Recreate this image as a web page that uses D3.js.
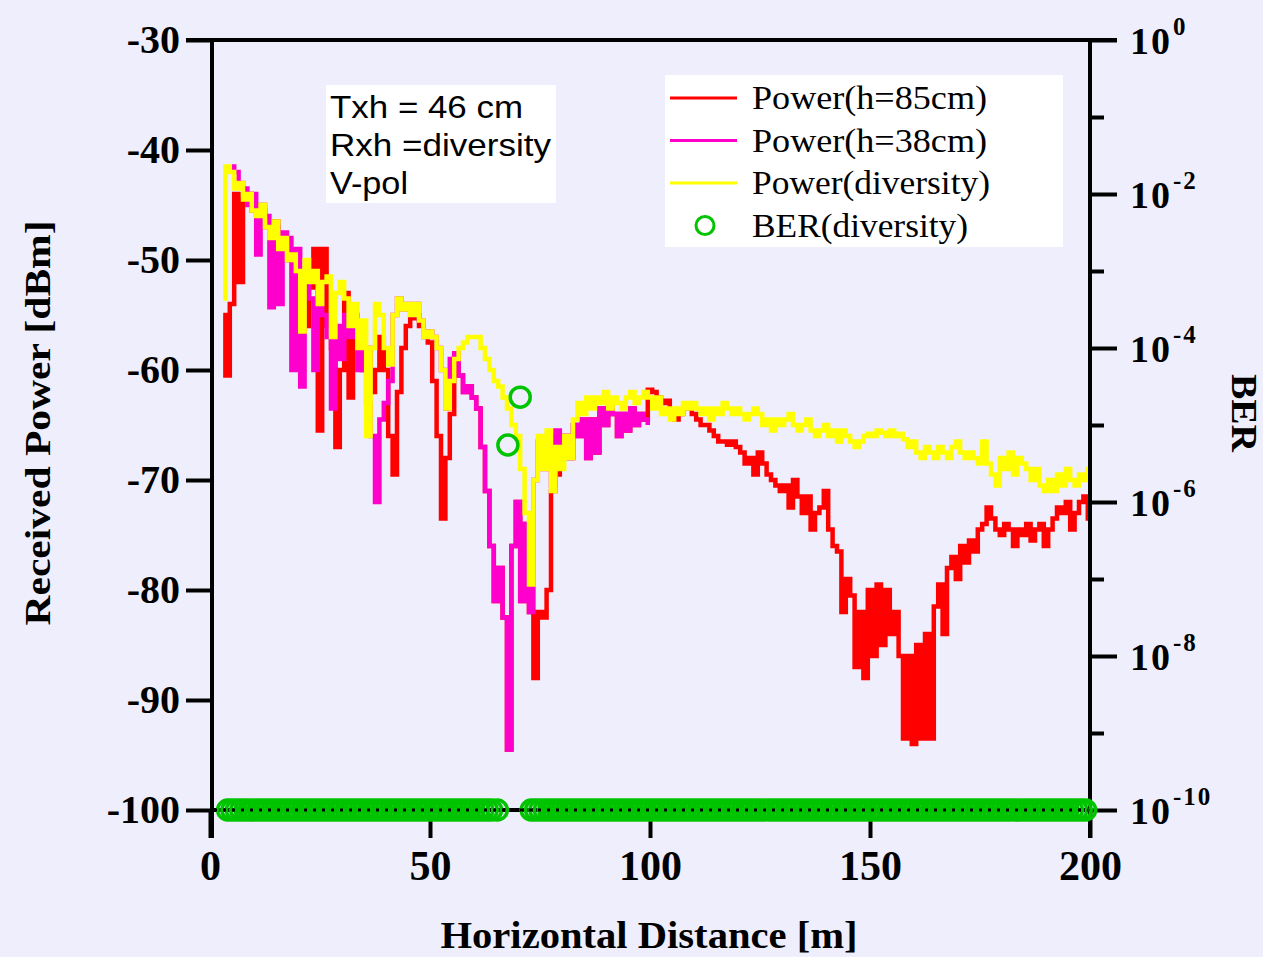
<!DOCTYPE html>
<html>
<head>
<meta charset="utf-8">
<script src="https://cdn.jsdelivr.net/npm/d3@7"></script>
<style>
  body { margin: 0; background: #eeeefc; }
  svg { display: block; }
</style>
</head>
<body>
<div id="chart-area"></div>
<script>
// received power, 1 m grid
var redStart = 3;    // Power(h=85cm), 3..200 m
var redPower = [
  -55, -60.5, -54, -44, -52, -44.5, -44, -45.5, -46, -45,
  -47, -48, -46.5, -49, -48, -50, -49.5, -55, -52, -56,
  -52.5, -49, -65.5, -49, -56, -58, -67, -60, -53, -62.5,
  -55, -57, -60, -58, -62, -60, -57, -60, -66, -69.5,
  -62, -58, -56, -55.3, -55, -56, -56.5, -57.5, -61, -66,
  -73.5, -68, -64, -58.5, -60.5, -62, -61.5, -62.5, -63.5, -67,
  -71, -76, -81, -78, -82.5, -94.5, -76, -72, -81, -74,
  -82, -88, -82, -82.5, -80, -71, -69.5, -67, -66, -68,
  -65, -66, -64.5, -68, -64.5, -67.5, -63.5, -65, -63.5, -64,
  -66, -64, -65.5, -63.5, -65, -64, -64.5, -61.8, -62, -62.5,
  -63, -62.8, -63.8, -64.5, -64, -63.5, -63.3, -64, -64.5, -65,
  -65, -65.5, -66, -66.5, -66.5, -66.8, -66.5, -67, -67.5, -68.5,
  -68, -69.5, -67.5, -68.5, -69.5, -70, -70.5, -71, -70.5, -72.5,
  -70, -71.5, -73, -71.5, -74.5, -73, -72.5, -71, -74.5, -76,
  -76.5, -82, -79, -80.5, -87, -82, -88, -80, -86, -79.5,
  -85, -80, -84, -82, -86, -93.5, -86, -94, -85, -93.5,
  -84, -93.5, -81.5, -79.5, -84, -78, -77, -79, -76, -77.5,
  -75.5, -76.5, -74.5, -74, -72.5, -73.5, -74.5, -75, -74, -74.5,
  -76, -74.5, -75, -74, -75.5, -74.5, -74, -76, -74.5, -73.5,
  -72.5, -73, -72, -74.5, -73, -72, -71.5, -73.5
];

var pinkStart = 5;   // Power(h=38cm), 5..100 m
var pinkPower = [
  -41.5, -42, -43, -43.5, -45, -44, -49.5, -45.5, -46, -54.3,
  -47, -54, -47.5, -48, -60, -49, -61.5, -51, -53.5, -60,
  -52, -55, -57, -63.5, -56, -59, -55, -57, -55, -60,
  -58, -63, -66, -72, -64.5, -63, -61, -55, -53.5, -54.5,
  -54, -55, -54, -55.5, -57, -56.5, -57, -58, -60, -63.5,
  -59, -58.5, -60.5, -62, -61.5, -62.5, -63.5, -67, -71, -76,
  -81, -78, -82.5, -94.5, -76, -72, -81, -74, -82, -70,
  -66.5, -69, -66, -70.5, -65.5, -67.5, -66, -68, -65, -66,
  -64.5, -68, -64.5, -67.5, -63.5, -65, -63.5, -64, -66, -64,
  -65.5, -63.5, -65, -64, -64.5, -64.8
];

var yellowStart = 3; // Power(diversity), 3..200 m
var yellowPower = [
  -53.5, -41.5, -42, -43.5, -43, -44.5, -44, -45.5, -46, -45,
  -47, -48, -46.5, -49, -48, -50, -49.5, -51, -56.5, -50,
  -52, -51, -54, -52, -51.5, -57, -53, -52, -53.5, -56,
  -54, -58, -55.5, -66, -58, -54, -55, -58, -59.5, -55,
  -53.5, -54.5, -54, -55, -54, -55.5, -57, -56.5, -57, -58,
  -60, -63.5, -61, -59, -58, -57.5, -57, -57, -57, -58,
  -59, -60, -61, -61.5, -62.5, -63.5, -65, -66, -69, -73,
  -79.5, -70, -66, -69, -65.5, -71, -67, -69, -66, -68,
  -64.5, -63, -64, -62.5, -63.5, -62.5, -63, -62, -63.5, -62.5,
  -63, -63.5, -62.5, -62, -63, -62.5, -62, -62.5, -63.5, -62.5,
  -64, -63.5, -64.5, -63.5, -64, -63, -63.5, -63, -63.5, -64,
  -63.5, -64.5, -63.5, -64, -63, -63.5, -64, -63.5, -64, -64.5,
  -64, -63.5, -64, -65, -64.5, -65.5, -64.5, -65, -64.5, -64,
  -65, -65.5, -65, -64.5, -65.5, -66, -65.5, -65, -66, -65.5,
  -66.5, -65.5, -66, -66.5, -67, -66.5, -66, -65.8, -66, -65.5,
  -65.7, -66, -65.5, -66, -65.8, -66.3, -67, -66.5, -67.5, -68,
  -67, -67.5, -68, -67, -67.5, -68, -67, -66.5, -67.5, -68,
  -67.5, -68, -68.5, -66.5, -68.5, -69.5, -70.5, -68, -69, -67.5,
  -69.5, -68, -68.5, -69, -70, -69, -70.5, -71, -70, -71,
  -69.5, -70.5, -69, -70, -70.5, -69.5, -70, -69
];

// BER(diversity): two measured points above the floor
var berDist = [67.7, 70.5];
var berValue = [5.5e-6, 2.3e-5];
// points sitting on the 1e-10 floor
var berFloor = 1e-10;
var berFloorDist = [
  4, 5, 6, 7, 8, 9, 10, 11, 12, 13, 14, 15, 16, 17, 18, 19, 20, 21, 22, 23,
  24, 25, 26, 27, 28, 29, 30, 31, 32, 33, 34, 35, 36, 37, 38, 39, 40, 41, 42, 43,
  44, 45, 46, 47, 48, 49, 50, 51, 52, 53, 54, 55, 56, 57, 58, 59, 60, 61, 62, 63,
  64, 65.3,
  73, 74, 75, 76, 77, 78, 79, 80, 81, 82, 83, 84, 85, 86, 87, 88, 89, 90, 91, 92,
  93, 94, 95, 96, 97, 98, 99, 100, 101, 102, 103, 104, 105, 106, 107, 108, 109, 110, 111, 112,
  113, 114, 115, 116, 117, 118, 119, 120, 121, 122, 123, 124, 125, 126, 127, 128, 129, 130, 131, 132,
  133, 134, 135, 136, 137, 138, 139, 140, 141, 142, 143, 144, 145, 146, 147, 148, 149, 150, 151, 152,
  153, 154, 155, 156, 157, 158, 159, 160, 161, 162, 163, 164, 165, 166, 167, 168, 169, 170, 171, 172,
  173, 174, 175, 176, 177, 178, 179, 180, 181, 182, 183, 184, 185, 186, 187, 188, 189, 190, 191, 192,
  193, 194, 195, 196, 197, 198, 199
];

var distTicks = [0, 50, 100, 150, 200];
var powerTicks = [-30, -40, -50, -60, -70, -80, -90, -100];
var berMajorExp = [0, -2, -4, -6, -8, -10];
var berMinorExp = [-1, -3, -5, -7, -9];

var legendNames = ["Power(h=85cm)", "Power(h=38cm)", "Power(diversity)", "BER(diversity)"];
var noteLines = ["Txh = 46 cm", "Rxh =diversity", "V-pol"];

var colRed = "#ff0000", colPink = "#ff00cc", colYellow = "#ffff00", colGreen = "#00c400";
var serif = "'Liberation Serif', 'Times New Roman', serif";
var sans = "'Liberation Sans', Arial, sans-serif";

var svg = d3.select("#chart-area").append("svg")
    .attr("width", 1263)
    .attr("height", 957);

svg.append("rect").attr("width", 1263).attr("height", 957).attr("fill", "#eeeefc");

var x = d3.scaleLinear().domain([0, 200]).range([210, 1090]);
var y = d3.scaleLinear().domain([-30, -100]).range([40, 810]);
var yBer = d3.scaleLog().domain([1e-10, 1]).range([810, 40]);

function toPoints(start, vals) {
  return vals.map((v, i) => [start + i, v]);
}

var line = d3.line()
    .curve(d3.curveStep)
    .x((d) => x(d[0]))
    .y((d) => y(d[1]));

// traces
[[redStart, redPower, colRed], [pinkStart, pinkPower, colPink], [yellowStart, yellowPower, colYellow]]
  .forEach((s) => {
    svg.append("path")
      .datum(toPoints(s[0], s[1]))
      .attr("d", line)
      .attr("fill", "none")
      .attr("stroke", s[2])
      .attr("stroke-width", 4.5)
      .attr("stroke-linejoin", "miter");
  });

// frame lines
var frame = svg.append("g").attr("stroke", "#000").attr("stroke-width", 4);
frame.append("line").attr("x1", 186).attr("x2", 1117).attr("y1", 40).attr("y2", 40);
frame.append("line").attr("x1", 212).attr("x2", 212).attr("y1", 38).attr("y2", 838);
frame.append("line").attr("x1", 1090).attr("x2", 1090).attr("y1", 38).attr("y2", 838);
frame.append("line").attr("x1", 212).attr("x2", 1090).attr("y1", 810).attr("y2", 810);

// left axis
var yAxis = svg.append("g")
    .attr("transform", "translate(212,0)")
    .call(d3.axisLeft(y).tickValues(powerTicks).tickSize(26).tickPadding(6).tickFormat((d) => String(d)));
yAxis.select(".domain").remove();
yAxis.selectAll(".tick line").attr("stroke", "#000").attr("stroke-width", 4);
yAxis.selectAll(".tick text")
    .attr("font-family", serif).attr("font-weight", "bold").attr("font-size", 40)
    .attr("fill", "#000");

// bottom axis
var xAxis = svg.append("g")
    .attr("transform", "translate(0,810)")
    .call(d3.axisBottom(x).tickValues(distTicks).tickSize(28).tickPadding(12));
xAxis.select(".domain").remove();
xAxis.selectAll(".tick line").attr("stroke", "#000").attr("stroke-width", 4);
xAxis.selectAll(".tick text")
    .attr("font-family", serif).attr("font-weight", "bold").attr("font-size", 42)
    .attr("fill", "#000");

// right BER axis
var rMajor = svg.append("g")
    .attr("transform", "translate(1090,0)")
    .call(d3.axisRight(yBer).tickValues(berMajorExp.map((e) => Math.pow(10, e))).tickSize(27).tickFormat(""));
var rMinor = svg.append("g")
    .attr("transform", "translate(1090,0)")
    .call(d3.axisRight(yBer).tickValues(berMinorExp.map((e) => Math.pow(10, e))).tickSize(14).tickFormat(""));
[rMajor, rMinor].forEach((g) => {
  g.select(".domain").remove();
  g.selectAll(".tick line").attr("stroke", "#000").attr("stroke-width", 4);
});

var berLabels = svg.append("g")
    .attr("font-family", serif).attr("font-weight", "bold").attr("fill", "#000");
berMajorExp.forEach((e) => {
  var yy = yBer(Math.pow(10, e));
  var t = berLabels.append("text").attr("x", 1130).attr("y", yy + 14).attr("font-size", 38)
      .attr("letter-spacing", 2);
  t.append("tspan").text("10");
  t.append("tspan").attr("font-size", 25).attr("dy", -19).attr("dx", 1).text(String(e));
});

// circles
var berPts = berFloorDist.map((d) => [d, berFloor])
    .concat(berDist.map((d, i) => [d, berValue[i]]));
svg.append("g").selectAll("circle")
    .data(berPts)
    .enter().append("circle")
      .attr("cx", (d) => x(d[0]))
      .attr("cy", (d) => yBer(d[1]))
      .attr("r", 10)
      .attr("fill", "none")
      .attr("stroke", colGreen)
      .attr("stroke-width", 3.5);

// axis line shows through the hollow markers
svg.append("line")
    .attr("x1", 214).attr("x2", 1088).attr("y1", 810).attr("y2", 810)
    .attr("stroke", "#000").attr("stroke-width", 3)
    .attr("stroke-dasharray", "3,6");

// axis titles
svg.append("text")
    .attr("transform", "translate(50,423) rotate(-90)")
    .attr("text-anchor", "middle")
    .attr("font-family", serif).attr("font-weight", "bold").attr("font-size", 36)
    .attr("textLength", 405).attr("lengthAdjust", "spacingAndGlyphs")
    .text("Received Power  [dBm]");

svg.append("text")
    .attr("x", 649).attr("y", 948)
    .attr("text-anchor", "middle")
    .attr("font-family", serif).attr("font-weight", "bold").attr("font-size", 38)
    .attr("textLength", 417).attr("lengthAdjust", "spacingAndGlyphs")
    .text("Horizontal Distance  [m]");

svg.append("text")
    .attr("transform", "translate(1232,413) rotate(90)")
    .attr("text-anchor", "middle")
    .attr("font-family", serif).attr("font-weight", "bold").attr("font-size", 36)
    .attr("textLength", 78).attr("lengthAdjust", "spacingAndGlyphs")
    .text("BER");

// note box
svg.append("rect").attr("x", 326).attr("y", 85).attr("width", 230).attr("height", 118).attr("fill", "#fff");
var noteW = [193, 221, 78];
noteLines.forEach((s, i) => {
  svg.append("text")
    .attr("x", 330).attr("y", 118 + i * 38)
    .attr("font-family", sans).attr("font-size", 32)
    .attr("textLength", noteW[i]).attr("lengthAdjust", "spacingAndGlyphs")
    .text(s);
});

// legend
svg.append("rect").attr("x", 665).attr("y", 75).attr("width", 398).attr("height", 172).attr("fill", "#fff");
var legCols = [colRed, colPink, colYellow];
var legW = [235, 235, 238, 216];
legendNames.forEach((s, i) => {
  var ly = 98 + i * 42.5;
  if (i < 3) {
    svg.append("line").attr("x1", 670).attr("x2", 737).attr("y1", ly).attr("y2", ly)
      .attr("stroke", legCols[i]).attr("stroke-width", 3);
  } else {
    svg.append("circle").attr("cx", 705).attr("cy", ly).attr("r", 9)
      .attr("fill", "none").attr("stroke", colGreen).attr("stroke-width", 3);
  }
  svg.append("text")
    .attr("x", 752).attr("y", ly + 11)
    .attr("font-family", serif).attr("font-size", 34)
    .attr("textLength", legW[i]).attr("lengthAdjust", "spacingAndGlyphs")
    .text(s);
});
</script>
</body>
</html>
